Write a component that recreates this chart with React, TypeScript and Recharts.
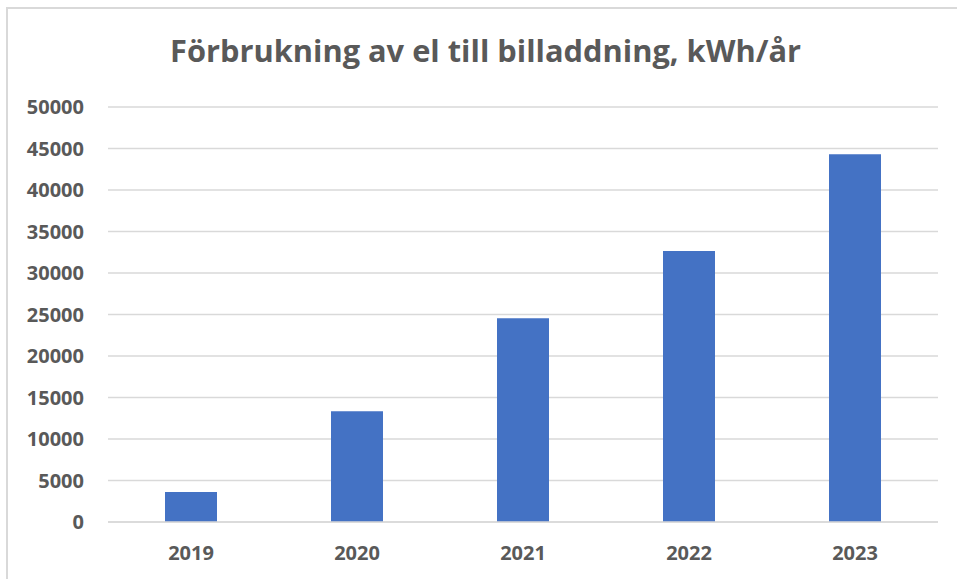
import { BarChart, Bar, XAxis, YAxis, CartesianGrid } from 'recharts'

const years = ['2019', '2020', '2021', '2022', '2023']
const kwh = [3600, 13350, 24550, 32650, 44300]
const yTicks = [0, 5000, 10000, 15000, 20000, 25000, 30000, 35000, 40000, 45000, 50000]

const data = years.map((year, i) => ({ year, kwh: kwh[i] }))

const font = '"Open Sans", "Noto Sans", sans-serif'
const textColor = '#595959'
const tickStyle = { fill: textColor, fontSize: 20, fontWeight: 700, fontFamily: font }

export default function App() {
  return (
    <div style={{ position: 'absolute', left: 0, top: 0, width: 957, height: 579, background: '#fff', overflow: 'hidden' }}>
      {/* chart frame, only top and left edges show */}
      <div style={{ position: 'absolute', left: 6, top: 7, width: 1000, height: 600, border: '2px solid #d9d9d9' }} />
      <BarChart
        width={957}
        height={579}
        data={data}
        margin={{ top: 107, right: 19, bottom: 0, left: 8 }}
        style={{ position: 'absolute', left: 0, top: 0 }}
      >
        <CartesianGrid vertical={false} stroke="#d9d9d9" strokeWidth={1.5} />
        <XAxis
          dataKey="year"
          axisLine={{ stroke: '#d9d9d9', strokeWidth: 1.5 }}
          tickLine={false}
          tickMargin={18}
          tick={tickStyle}
          height={57}
        />
        <YAxis
          domain={[0, 50000]}
          ticks={yTicks}
          axisLine={false}
          tickLine={false}
          tickMargin={18}
          tick={tickStyle}
          width={100}
          interval={0}
        />
        <Bar dataKey="kwh" fill="#4472c4" barSize={52} isAnimationActive={false} />
      </BarChart>
      <svg width={957} height={100} style={{ position: 'absolute', left: 0, top: 0 }}>
        <text
          x={170}
          y={62}
          textLength={631}
          lengthAdjust="spacingAndGlyphs"
          fill={textColor}
          fontSize={31}
          fontWeight={700}
          fontFamily={font}
        >
          Förbrukning av el till billaddning, kWh/år
        </text>
      </svg>
    </div>
  )
}
